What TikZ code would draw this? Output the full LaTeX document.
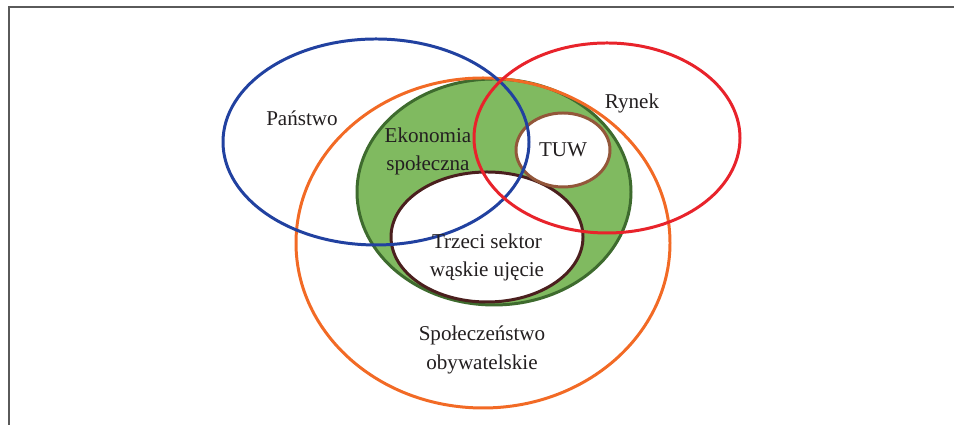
\documentclass[tikz,border=0pt]{standalone}
\usepackage{fontspec}
\setmainfont{Liberation Serif}
\usepackage{tikz}
\usetikzlibrary{positioning}
\usepackage{xcolor}
\definecolor{st-blue}{HTML}{2141A0}
\definecolor{ry-red}{HTML}{E8232B}
\definecolor{so-orange}{HTML}{F26A25}
\definecolor{es-green}{HTML}{80BA60}
\definecolor{es-dark}{HTML}{3E6B2E}
\definecolor{ts-brown}{HTML}{4B1F1E}
\definecolor{tuw-brown}{HTML}{93573A}
\definecolor{txt-grey}{HTML}{231F20}
\definecolor{frame-grey}{HTML}{5A5A5A}

\begin{document}
\begin{tikzpicture}[
    lbl/.style={font=\fontsize{12}{16}\selectfont, txt-grey, align=center},
    ring/.style={line width=1.7pt}]
        \useasboundingbox (0,0) rectangle (19.08,8.5);
        % ── frame (cut by the page) ──
        \draw[frame-grey, line width=1pt] (0.18,-1) |- (20,8.36);

        % ── filled areas first ──
        \fill[es-green, draw=es-dark, ring] (9.88,4.66) ellipse [x radius=2.74, y radius=2.26];
        \fill[white, draw=ts-brown, ring] (9.74,3.76) ellipse [x radius=1.92, y radius=1.30];
        \fill[white, draw=tuw-brown, ring] (11.26,5.50) ellipse [x radius=0.94, y radius=0.74];

        % ── outlines on top ──
        \draw[so-orange, ring] (9.66,3.64) ellipse [x radius=3.74, y radius=3.30];
        \draw[st-blue, ring] (7.52,5.66) ellipse [x radius=3.06, y radius=2.06];
        \draw[ry-red, ring] (12.14,5.74) ellipse [x radius=2.66, y radius=1.90];

        % ── labels ──
        \node[lbl] (panstwo) at (6.04,6.14) {Państwo};
        \node[lbl] (rynek) at (12.64,6.44) {Rynek};
        \node[lbl] (ekonomia) at (8.56,5.48) {Ekonomia\\społeczna};
        \node[lbl] (tuw) at (11.26,5.50) {TUW};
        \node[lbl] (trzeci) at (9.74,3.36) {Trzeci sektor\\wąskie ujęcie};
        \node[lbl] (spoleczenstwo) at (9.64,1.50) {Społeczeństwo\\obywatelskie};
      \end{tikzpicture}
\end{document}
